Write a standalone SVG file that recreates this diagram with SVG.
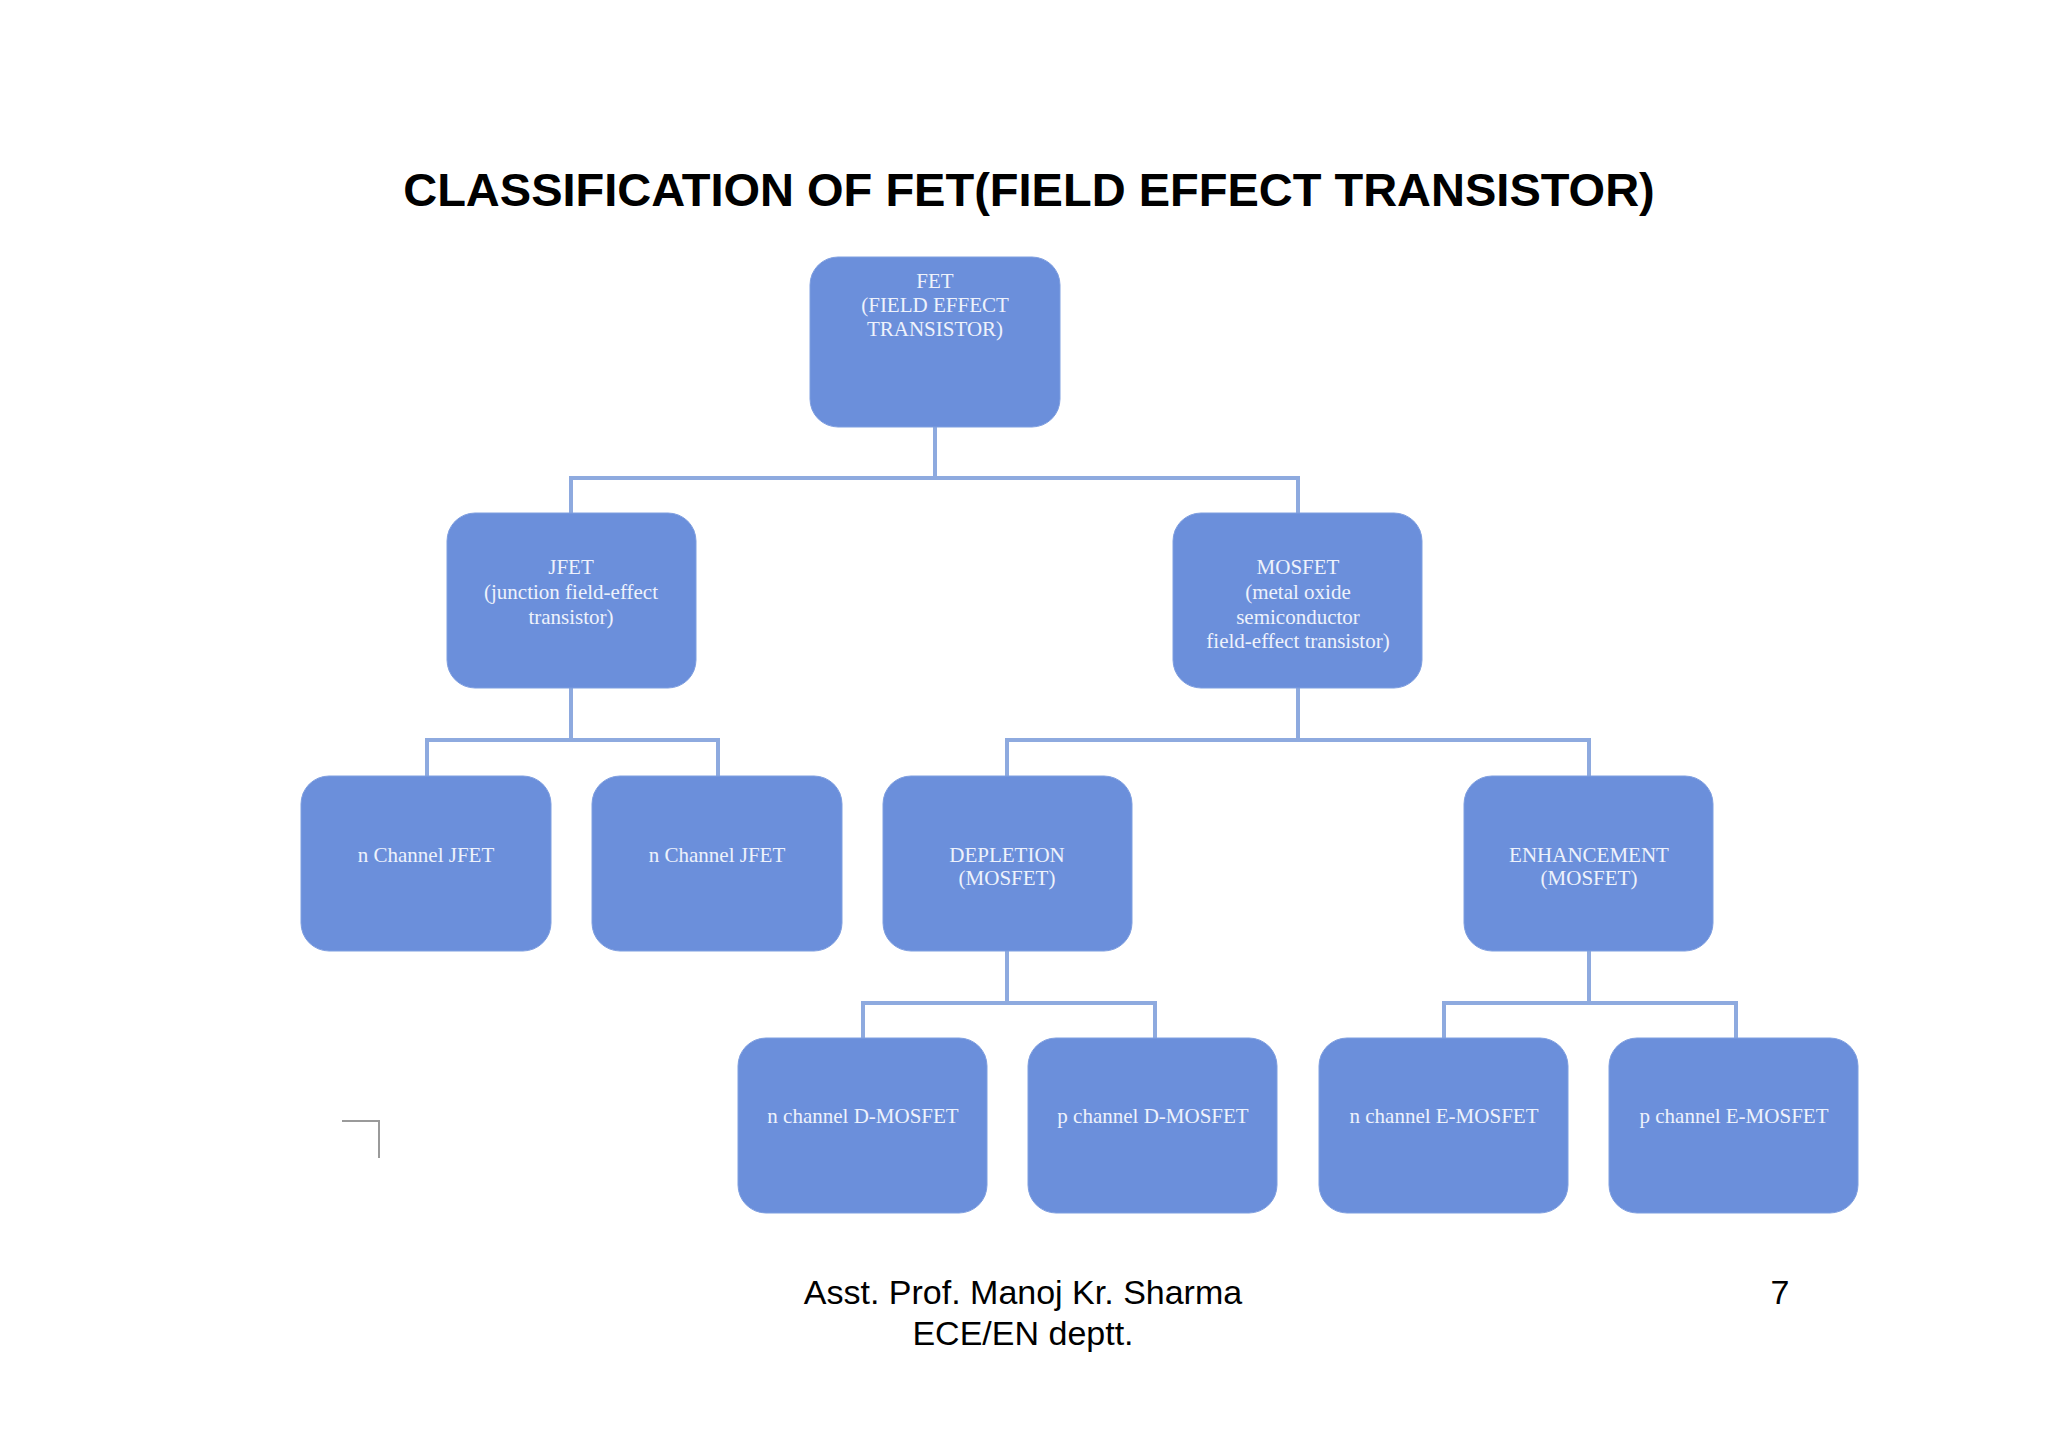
<svg xmlns="http://www.w3.org/2000/svg" width="2048" height="1448" viewBox="0 0 2048 1448">
<style>
.box{fill:#6b8fdb;stroke:#7f9fe0;stroke-width:1}
.bt{font-family:"Liberation Serif",serif;font-size:21px;fill:#eef2fb;text-anchor:middle}
.ln{stroke:#8eaadf;stroke-width:4;fill:none}
.h{font-family:"Liberation Sans",Arial,sans-serif;fill:#000}
</style>
<rect width="2048" height="1448" fill="#fff"/>
<text class="h" x="1029" y="206" font-size="47" font-weight="bold" text-anchor="middle">CLASSIFICATION OF FET(FIELD EFFECT TRANSISTOR)</text>
<g id="connectors">
<path class="ln" d="M935 427V478M571 478H1298M571 476V513M1298 476V513"/>
<path class="ln" d="M571 688V740M427 740H718M427 738V776M718 738V776"/>
<path class="ln" d="M1298 688V740M1007 740H1589M1007 738V776M1589 738V776"/>
<path class="ln" d="M1007 951V1003M863 1003H1155M863 1001V1038M1155 1001V1038"/>
<path class="ln" d="M1589 951V1003M1444 1003H1736M1444 1001V1038M1736 1001V1038"/>
</g>
<g id="fet"><rect class="box" x="810" y="257" width="250" height="170" rx="28"/><text class="bt" x="935"><tspan x="935" y="288">FET</tspan><tspan x="935" y="312">(FIELD EFFECT</tspan><tspan x="935" y="336">TRANSISTOR)</tspan></text></g>
<g id="jfet"><rect class="box" x="447" y="513" width="249" height="175" rx="28"/><text class="bt"><tspan x="571" y="574">JFET</tspan><tspan x="571" y="599">(junction field-effect</tspan><tspan x="571" y="624">transistor)</tspan></text></g>
<g id="mosfet"><rect class="box" x="1173" y="513" width="249" height="175" rx="28"/><text class="bt"><tspan x="1298" y="574">MOSFET</tspan><tspan x="1298" y="599">(metal oxide</tspan><tspan x="1298" y="624">semiconductor</tspan><tspan x="1298" y="648">field-effect transistor)</tspan></text></g>
<g id="njfet1"><rect class="box" x="301" y="776" width="250" height="175" rx="28"/><text class="bt" x="426" y="862">n Channel JFET</text></g>
<g id="njfet2"><rect class="box" x="592" y="776" width="250" height="175" rx="28"/><text class="bt" x="717" y="862">n Channel JFET</text></g>
<g id="depletion"><rect class="box" x="883" y="776" width="249" height="175" rx="28"/><text class="bt"><tspan x="1007" y="862">DEPLETION</tspan><tspan x="1007" y="885">(MOSFET)</tspan></text></g>
<g id="enhancement"><rect class="box" x="1464" y="776" width="249" height="175" rx="28"/><text class="bt"><tspan x="1589" y="862">ENHANCEMENT</tspan><tspan x="1589" y="885">(MOSFET)</tspan></text></g>
<g id="ndmos"><rect class="box" x="738" y="1038" width="249" height="175" rx="28"/><text class="bt" x="863" y="1123">n channel D-MOSFET</text></g>
<g id="pdmos"><rect class="box" x="1028" y="1038" width="249" height="175" rx="28"/><text class="bt" x="1153" y="1123">p channel D-MOSFET</text></g>
<g id="nemos"><rect class="box" x="1319" y="1038" width="249" height="175" rx="28"/><text class="bt" x="1444" y="1123">n channel E-MOSFET</text></g>
<g id="pemos"><rect class="box" x="1609" y="1038" width="249" height="175" rx="28"/><text class="bt" x="1734" y="1123">p channel E-MOSFET</text></g>
<path d="M342 1121H379V1158" stroke="#9a9a9a" stroke-width="2" fill="none"/>
<text class="h" x="1023" y="1304" font-size="34" text-anchor="middle">Asst. Prof. Manoj Kr. Sharma</text>
<text class="h" x="1023" y="1345" font-size="34" text-anchor="middle">ECE/EN  deptt.</text>
<text class="h" x="1780" y="1304" font-size="34" text-anchor="middle">7</text>
</svg>
